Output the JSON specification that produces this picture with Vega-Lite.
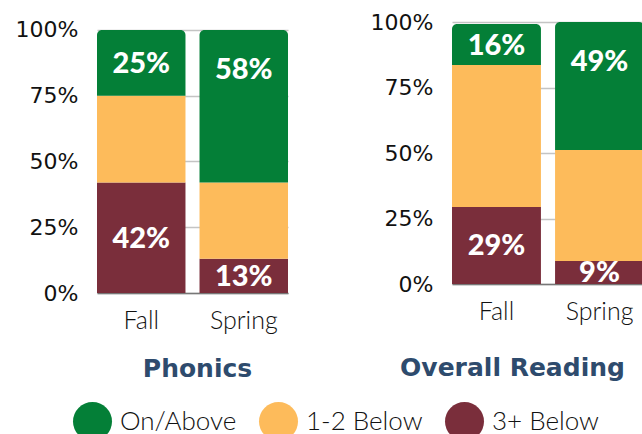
{
  "$schema": "https://vega.github.io/schema/vega-lite/v6.json",
  "padding": {"left": 15, "top": 11, "right": 0, "bottom": 0},
  "spacing": 82,
  "datasets": {
    "phonics": [
      {"term": "Fall", "category": "3+ Below", "level": 1, "pct": 0.42},
      {"term": "Fall", "category": "1-2 Below", "level": 2, "pct": 0.33},
      {"term": "Fall", "category": "On/Above", "level": 3, "pct": 0.25},
      {"term": "Spring", "category": "3+ Below", "level": 1, "pct": 0.13},
      {"term": "Spring", "category": "1-2 Below", "level": 2, "pct": 0.29},
      {"term": "Spring", "category": "On/Above", "level": 3, "pct": 0.58}
    ],
    "reading": [
      {"term": "Fall", "category": "3+ Below", "level": 1, "pct": 0.294},
      {"term": "Fall", "category": "1-2 Below", "level": 2, "pct": 0.542},
      {"term": "Fall", "category": "On/Above", "level": 3, "pct": 0.156},
      {"term": "Spring", "category": "3+ Below", "level": 1, "pct": 0.088},
      {"term": "Spring", "category": "1-2 Below", "level": 2, "pct": 0.423},
      {"term": "Spring", "category": "On/Above", "level": 3, "pct": 0.489}
    ]
  },
  "hconcat": [
    {
      "data": {"name": "phonics"},
      "width": 191,
      "height": 271,
      "transform": [
        {"stack": "pct", "groupby": ["term"], "sort": [{"field": "level", "order": "ascending"}], "as": ["y0", "y1"]},
        {"calculate": "datum.category == 'On/Above' ? max((datum.y0 + datum.y1) / 2, 0.85) : (datum.y0 + datum.y1) / 2", "as": "labelY"}
      ],
      "encoding": {
        "x": {
          "field": "term", "type": "nominal", "sort": ["Fall", "Spring"],
          "scale": {"paddingInner": 0.137, "paddingOuter": 0},
          "axis": {"title": "Phonics", "titlePadding": 23, "titleX": 100}
        }
      },
      "layer": [
        {
          "transform": [{"filter": "datum.category != 'On/Above'"}],
          "mark": {"type": "bar"},
          "encoding": {
            "y": {"field": "y1", "type": "quantitative", "scale": {"domain": [0, 1.0304], "nice": false},
              "axis": {"values": [0, 0.25, 0.5, 0.75, 1], "format": ".0%", "title": null}},
            "y2": {"field": "y0"},
            "color": {"field": "category", "type": "nominal",
              "scale": {"domain": ["On/Above", "1-2 Below", "3+ Below"], "range": ["#047f37", "#fdbb5b", "#7a2e3b"]}}
          }
        },
        {
          "transform": [{"filter": "datum.category == 'On/Above'"}],
          "mark": {"type": "bar", "cornerRadiusTopLeft": 5, "cornerRadiusTopRight": 5},
          "encoding": {
            "y": {"field": "y1", "type": "quantitative"},
            "y2": {"field": "y0"},
            "color": {"field": "category", "type": "nominal"}
          }
        },
        {
          "transform": [{"filter": "datum.category != '1-2 Below'"}],
          "mark": {"type": "text", "color": "white", "font": "Lato", "fontWeight": 900, "fontSize": 29, "baseline": "middle", "dy": 1},
          "encoding": {
            "y": {"field": "labelY", "type": "quantitative"},
            "text": {"field": "pct", "type": "quantitative", "format": ".0%"}
          }
        }
      ]
    },
    {
      "data": {"name": "reading"},
      "width": 192,
      "height": 262,
      "transform": [
        {"stack": "pct", "groupby": ["term"], "sort": [{"field": "level", "order": "ascending"}], "as": ["y0", "y1"]},
        {"calculate": "datum.category == 'On/Above' ? max((datum.y0 + datum.y1) / 2, 0.85) : (datum.y0 + datum.y1) / 2", "as": "labelY"}
      ],
      "encoding": {
        "x": {
          "field": "term", "type": "nominal", "sort": ["Fall", "Spring"],
          "scale": {"paddingInner": 0.137, "paddingOuter": 0},
          "axis": {"title": "Overall Reading", "titlePadding": 31, "titleX": 60}
        }
      },
      "layer": [
        {
          "transform": [{"filter": "datum.category != 'On/Above'"}],
          "mark": {"type": "bar"},
          "encoding": {
            "y": {"field": "y1", "type": "quantitative", "scale": {"domain": [0, 1], "nice": false},
              "axis": {"values": [0, 0.25, 0.5, 0.75, 1], "format": ".0%", "title": null}},
            "y2": {"field": "y0"},
            "color": {"field": "category", "type": "nominal"}
          }
        },
        {
          "transform": [{"filter": "datum.category == 'On/Above'"}],
          "mark": {"type": "bar", "cornerRadiusTopLeft": 5, "cornerRadiusTopRight": 5},
          "encoding": {
            "y": {"field": "y1", "type": "quantitative"},
            "y2": {"field": "y0"},
            "color": {"field": "category", "type": "nominal"}
          }
        },
        {
          "transform": [{"filter": "datum.category != '1-2 Below'"}],
          "mark": {"type": "text", "color": "white", "font": "Lato", "fontWeight": 900, "fontSize": 29, "baseline": "middle", "dy": 1},
          "encoding": {
            "y": {"field": "labelY", "type": "quantitative"},
            "text": {"field": "pct", "type": "quantitative", "format": ".0%"}
          }
        }
      ]
    }
  ],
  "resolve": {"scale": {"color": "shared"}},
  "config": {
    "view": {"stroke": null},
    "axisY": {
      "domain": false, "ticks": false, "grid": true, "gridColor": "#c4c4c4", "gridWidth": 1.5,
      "labelFont": "DejaVu Sans", "labelFontSize": 22, "labelColor": "#111111", "labelPadding": 19, "labelFlush": false
    },
    "axisX": {
      "domain": true, "domainColor": "#777777", "domainWidth": 1.5, "ticks": false, "grid": false,
      "labelAngle": 0, "labelFont": "Lato", "labelFontWeight": 300, "labelFontSize": 25, "labelColor": "#111111", "labelPadding": 15,
      "titleFont": "DejaVu Sans", "titleFontWeight": "bold", "titleFontSize": 25, "titleColor": "#2e4b6d"
    },
    "legend": {
      "orient": "none", "legendX": -24, "legendY": 380, "direction": "horizontal", "title": null, "padding": 0,
      "symbolType": "circle", "symbolSize": 1521, "symbolStrokeWidth": 0, "symbolOpacity": 1,
      "labelFont": "Lato", "labelFontWeight": 300, "labelFontSize": 26, "labelColor": "#111111",
      "labelOffset": 8, "columnPadding": 22
    }
  }
}
